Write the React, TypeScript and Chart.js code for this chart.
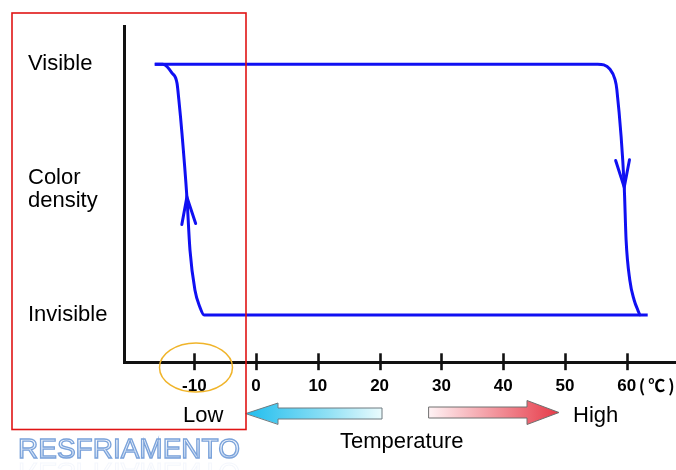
import React, { useEffect, useRef } from "react";
import { Chart, registerables } from "chart.js";

Chart.register(...registerables);

// ---- data ----
const xTickValues = [-10, 0, 10, 20, 30, 40, 50, 60];
const unitLabel = "(℃)";
const yTickValues = [0, 0.5, 1];
const yTickLabels: (string | string[])[] = ["Invisible", ["Color", "density"], "Visible"];

// heating path: stays visible, drops to invisible near 60°C
const heatingX = [-16.4, 55.3, 57.3, 58.1, 58.4, 59.6, 59.9, 60.5, 61.2, 61.8, 62.2, 63.4];
const heatingY = [1, 1, 0.98, 0.94, 0.9, 0.51, 0.3, 0.14, 0.06, 0.02, 0, 0];

// cooling path: stays invisible, recovers colour near -10°C
const coolingX = [-16.4, -15.1, -13.6, -12.8, -12.5, -12.0, -11.2, -10.7, -9.9, -9.1, -8.4, 62.2];
const coolingY = [1, 1, 0.965, 0.925, 0.858, 0.726, 0.471, 0.259, 0.1, 0.032, 0, 0];

// direction markers: which point of which path carries a chevron, and flow direction
const flowArrows = [
  { dataset: 0, index: 5, dir: 1 },
  { dataset: 1, index: 6, dir: -1 },
];

const lowLabel = "Low";
const highLabel = "High";
const axisTitle = "Temperature";
const stampText = "RESFRIAMENTO";

const LINE_COLOR = "#1010f2";
const FONT = '"Liberation Sans", Arial, sans-serif';

const decorPlugin = {
  id: "decor",
  beforeDraw(chart: any) {
    const ctx = chart.ctx;
    ctx.save();
    ctx.fillStyle = "#ffffff";
    ctx.fillRect(0, 0, chart.width, chart.height);
    ctx.restore();
  },
  afterDraw(chart: any) {
    const ctx: any = chart.ctx;
    const xs = chart.scales.x;
    ctx.save();

    // tick marks crossing the x axis
    ctx.strokeStyle = "#111";
    ctx.lineWidth = 2.6;
    xTickValues.forEach((v) => {
      const px = Math.round(xs.getPixelForValue(v)) + 0.5;
      ctx.beginPath();
      ctx.moveTo(px, xs.top - 9.4);
      ctx.lineTo(px, xs.top + 7.5);
      ctx.stroke();
    });

    // unit label next to the last tick
    ctx.fillStyle = "#000";
    ctx.font = 'bold 17px "Noto Sans CJK JP", ' + FONT;
    ctx.textBaseline = "alphabetic";
    ctx.textAlign = "left";
    if ("letterSpacing" in ctx) ctx.letterSpacing = "3px";
    ctx.fillText(unitLabel, xs.getPixelForValue(xTickValues[xTickValues.length - 1]) + 12, 392);
    if ("letterSpacing" in ctx) ctx.letterSpacing = "0px";

    // chevrons on the curves
    ctx.strokeStyle = LINE_COLOR;
    ctx.lineWidth = 3;
    ctx.lineCap = "round";
    flowArrows.forEach((a) => {
      const pts = chart.getDatasetMeta(a.dataset).data;
      const p = pts[a.index];
      const prev = pts[a.index - 1];
      const next = pts[a.index + 1];
      let dx = (next.x - prev.x) * a.dir;
      let dy = (next.y - prev.y) * a.dir;
      const len = Math.hypot(dx, dy);
      dx /= len;
      dy /= len;
      const L = 28;
      const ang = 0.25;
      const cos = Math.cos(ang), sin = Math.sin(ang);
      const bx = -dx, by = -dy;
      const w1x = bx * cos - by * sin, w1y = bx * sin + by * cos;
      const w2x = bx * cos + by * sin, w2y = -bx * sin + by * cos;
      ctx.beginPath();
      ctx.moveTo(p.x + w1x * L, p.y + w1y * L);
      ctx.lineTo(p.x, p.y);
      ctx.lineTo(p.x + w2x * L, p.y + w2y * L);
      ctx.stroke();
    });

    // temperature arrows
    const cy1 = 413.5;
    ctx.lineWidth = 1;
    ctx.lineJoin = "miter";
    let g = ctx.createLinearGradient(246, 0, 382, 0);
    g.addColorStop(0, "#1fbdee");
    g.addColorStop(0.6, "#8fe0f5");
    g.addColorStop(1, "#eafbfd");
    ctx.beginPath();
    ctx.moveTo(246, cy1);
    ctx.lineTo(278, cy1 - 10.5);
    ctx.lineTo(278, cy1 - 5.5);
    ctx.lineTo(382, cy1 - 5.5);
    ctx.lineTo(382, cy1 + 5.5);
    ctx.lineTo(278, cy1 + 5.5);
    ctx.lineTo(278, cy1 + 10.5);
    ctx.closePath();
    ctx.fillStyle = g;
    ctx.fill();
    ctx.strokeStyle = "#6f7b80";
    ctx.stroke();

    const cy2 = 412.5;
    g = ctx.createLinearGradient(429, 0, 559, 0);
    g.addColorStop(0, "#fff2f4");
    g.addColorStop(1, "#e63a48");
    ctx.beginPath();
    ctx.moveTo(429, cy2 - 5.5);
    ctx.lineTo(527, cy2 - 5.5);
    ctx.lineTo(527, cy2 - 12);
    ctx.lineTo(559, cy2);
    ctx.lineTo(527, cy2 + 12);
    ctx.lineTo(527, cy2 + 5.5);
    ctx.lineTo(429, cy2 + 5.5);
    ctx.closePath();
    ctx.fillStyle = g;
    ctx.fill();
    ctx.strokeStyle = "#707070";
    ctx.stroke();

    // Low / High / Temperature
    ctx.fillStyle = "#000";
    ctx.font = "22px " + FONT;
    ctx.textAlign = "left";
    ctx.textBaseline = "alphabetic";
    ctx.fillText(lowLabel, 183, 422);
    ctx.fillText(highLabel, 573, 422);
    ctx.fillText(axisTitle, 340, 448);

    // red frame
    ctx.strokeStyle = "#e01414";
    ctx.lineWidth = 1.6;
    ctx.strokeRect(12, 13, 234, 416.5);

    // orange ellipse
    ctx.strokeStyle = "#f0b42a";
    ctx.lineWidth = 1.5;
    ctx.beginPath();
    ctx.ellipse(196, 367.5, 36.5, 24.5, 0, 0, Math.PI * 2);
    ctx.stroke();

    // stamp text with faint reflection
    ctx.font = "28px " + FONT;
    ctx.textAlign = "left";
    const base = 458;
    ctx.save();
    ctx.beginPath();
    ctx.rect(0, base + 3, 260, 20);
    ctx.clip();
    ctx.translate(0, base * 2 + 5);
    ctx.scale(1, -1);
    ctx.globalAlpha = 0.1;
    ctx.strokeStyle = "#86a9dd";
    ctx.lineWidth = 1;
    ctx.strokeText(stampText, 18, base);
    ctx.restore();

    g = ctx.createLinearGradient(0, 438, 0, 458);
    g.addColorStop(0, "#ffffff");
    g.addColorStop(1, "#c2d6f2");
    ctx.fillStyle = g;
    ctx.fillText(stampText, 18, base);
    ctx.strokeStyle = "#7aa2da";
    ctx.lineWidth = 1.3;
    ctx.strokeText(stampText, 18, base);

    ctx.restore();
  },
};

export default function App() {
  const ref = useRef<HTMLCanvasElement | null>(null);

  useEffect(() => {
    if (!ref.current) return;
    const chart = new Chart(ref.current, {
      type: "line",
      data: {
        datasets: [
          {
            data: heatingX.map((x, i) => ({ x, y: heatingY[i] })),
            borderColor: LINE_COLOR,
            borderWidth: 3,
            pointRadius: 0,
            cubicInterpolationMode: "monotone",
            fill: false,
          },
          {
            data: coolingX.map((x, i) => ({ x, y: coolingY[i] })),
            borderColor: LINE_COLOR,
            borderWidth: 3,
            pointRadius: 0,
            cubicInterpolationMode: "monotone",
            fill: false,
          },
        ],
      },
      options: {
        animation: false,
        responsive: false,
        devicePixelRatio: 1,
        layout: { padding: { left: 28, top: 26.7, right: 0, bottom: 0 } },
        plugins: {
          legend: { display: false },
          tooltip: { enabled: false },
        },
        scales: {
          x: {
            type: "linear",
            min: -21.3,
            max: 67.98,
            afterBuildTicks: (s: any) => {
              s.ticks = xTickValues.map((v) => ({ value: v }));
            },
            afterFit: (s: any) => {
              s.height = 107.3;
            },
            grid: { display: false, drawTicks: false },
            border: { display: true, color: "#111", width: 3 },
            ticks: {
              color: "#000",
              font: { family: FONT, size: 17, weight: "bold" },
              padding: 13,
              maxRotation: 0,
              autoSkip: false,
              callback: (v: any) => String(v),
            },
          },
          y: {
            type: "linear",
            min: -0.19,
            max: 1.15,
            afterBuildTicks: (s: any) => {
              s.ticks = yTickValues.map((v) => ({ value: v }));
            },
            afterFit: (s: any) => {
              s.width = 96.5;
            },
            grid: { display: false, drawTicks: false },
            border: { display: true, color: "#111", width: 3 },
            ticks: {
              color: "#000",
              crossAlign: "far",
              padding: 0,
              font: { family: FONT, size: 22, lineHeight: 1.05 },
              callback: (v: any) => {
                const i = yTickValues.indexOf(Number(v));
                return i >= 0 ? yTickLabels[i] : "";
              },
            },
          },
        },
      } as any,
      plugins: [decorPlugin],
    });
    return () => chart.destroy();
  }, []);

  return (
    <div style={{ position: "fixed", left: 0, top: 0, width: 676, height: 470, background: "#fff" }}>
      <canvas ref={ref} width={676} height={470} style={{ display: "block", width: 676, height: 470 }} />
    </div>
  );
}
